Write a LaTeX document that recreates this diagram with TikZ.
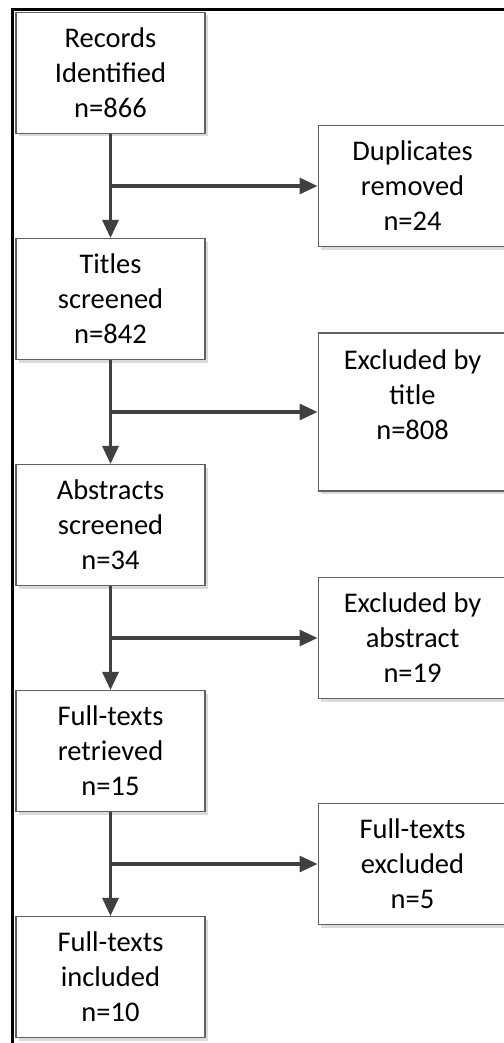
\documentclass[tikz,border=0pt]{standalone}
\usepackage{fontspec}
\setmainfont{Carlito}
\usetikzlibrary{arrows.meta,positioning,calc,shadows}

\begin{document}
\begin{tikzpicture}[>={Triangle[length=18pt,width=16pt]},node distance=226pt]
		\tikzstyle{stage}=[draw=black!62,line width=1.1pt,fill=white,minimum width=189pt,minimum height=121pt,
			inner sep=0pt,align=center,font=\fontsize{28.5}{35}\selectfont,
			drop shadow={shadow xshift=3pt,shadow yshift=-3pt,fill=black!14,opacity=1}]
		\tikzstyle{flow}=[->,draw=black!75,line width=3.1pt]
		
		\useasboundingbox (0pt,0pt) rectangle (503pt,-1043pt);
		\draw[line width=3pt] (12.5pt,-9.5pt) rectangle (530pt,-1070pt);
		
		% main column
		\node[stage] (rec) at (110.5pt,-73pt) {Records\\Identified\\n=866};
		\node[stage] (tit) [below of=rec] {Titles\\screened\\n=842};
		\node[stage] (abs) [below of=tit] {Abstracts\\screened\\n=34};
		\node[stage] (ret) [below of=abs] {Full-texts\\retrieved\\n=15};
		\node[stage] (inc) [below of=ret] {Full-texts\\included\\n=10};
		
		% branch points
		\coordinate (b1) at ($(rec.south)!.5!(tit.north)$);
		\coordinate (b2) at ($(tit.south)!.5!(abs.north)$);
		\coordinate (b3) at ($(abs.south)!.5!(ret.north)$);
		\coordinate (b4) at ($(ret.south)!.5!(inc.north)$);
		
		% exclusions
		\node[stage] (dup) [right=207pt of b1] {Duplicates\\removed\\n=24};
		\node[stage,minimum height=158pt] (ext) [right=207pt of b2] {Excluded by\\title\\n=808\\\mbox{}};
		\node[stage] (exa) [right=207pt of b3] {Excluded by\\abstract\\n=19};
		\node[stage] (exf) [right=207pt of b4] {Full-texts\\excluded\\n=5};
		
		\draw[flow] (rec) -- (tit);
		\draw[flow] (tit) -- (abs);
		\draw[flow] (abs) -- (ret);
		\draw[flow] (ret) -- (inc);
		\draw[flow] (b1) -- (dup);
		\draw[flow] (b2) -- (ext);
		\draw[flow] (b3) -- (exa);
		\draw[flow] (b4) -- (exf);
	\end{tikzpicture}
\end{document}
